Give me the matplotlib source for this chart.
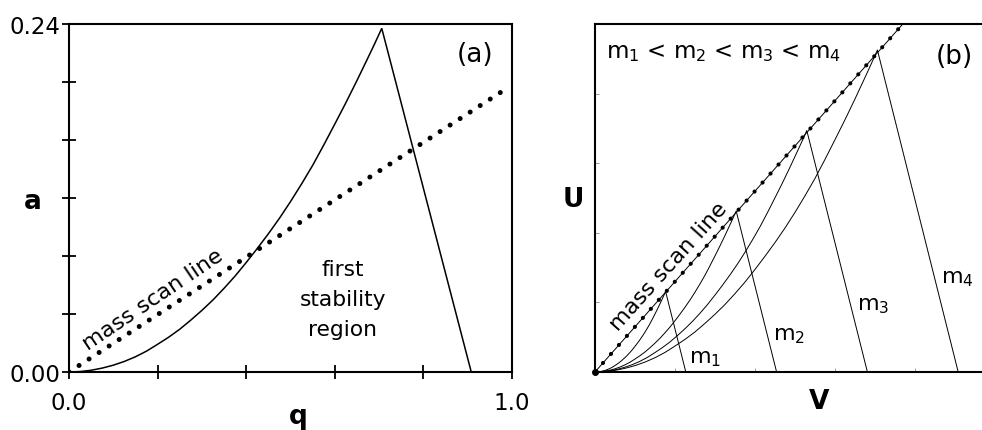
import matplotlib
matplotlib.use("Agg")
import matplotlib.pyplot as plt
import numpy as np

plt.rcParams['font.family'] = ['DejaVu Sans']
plt.rcParams['mathtext.fontset'] = 'dejavusans'

# ---- data: first stability region (q, a) ----
boundary_q = [0.0, 0.025, 0.05, 0.075, 0.10, 0.125, 0.15, 0.175, 0.20, 0.225,
              0.25, 0.275, 0.30, 0.325, 0.35, 0.375, 0.40, 0.425, 0.45, 0.475,
              0.50, 0.525, 0.55, 0.575, 0.60, 0.625, 0.65, 0.675, 0.69, 0.706,
              0.908]
boundary_a = [0.0, 0.0003, 0.0012, 0.0027, 0.0047, 0.0073, 0.0105, 0.0144,
              0.0191, 0.0240, 0.0295, 0.0358, 0.0425, 0.0497, 0.0577, 0.0662,
              0.0755, 0.0852, 0.0953, 0.1060, 0.1175, 0.1297, 0.1425, 0.1565,
              0.1710, 0.1857, 0.2010, 0.2168, 0.2264, 0.237, 0.0]

# mass scan line in panel (a)
scan_a_q = [0.0, 0.98]
scan_a_a = [0.0, 0.194]

# panel (b): masses and voltage scale factors
masses = [1, 2, 3, 4]
mass_labels = ["m$_1$", "m$_2$", "m$_3$", "m$_4$"]
V_per_q = 1.25
U_per_a = 4.88
scan_b_V = [0.0, 3.84]
scan_b_U = [0.0, 4.99]
mass_label_V = [1.175, 2.22, 3.28, 4.325]
mass_label_U = [0.14, 0.474, 0.905, 1.29]

a_xticks = [0.0, 0.2, 0.4, 0.6, 0.8, 1.0]
a_xticklabels = ["0.0", "", "", "", "", "1.0"]
a_yticks = [0.0, 0.04, 0.08, 0.12, 0.16, 0.20, 0.24]
a_yticklabels = ["0.00", "", "", "", "", "", "0.24"]
b_xticks = [1, 2, 3, 4]
b_yticks = [1, 2, 3, 4]

W, H = 982, 431
fig = plt.figure(figsize=(W / 100, H / 100), dpi=100)

# ---------------- panel (a) ----------------
axa = fig.add_axes([69 / W, (H - 373) / H, 443 / W, 348 / H])
axa.set_xlim(0, 1.0)
axa.set_ylim(0, 0.24)
axa.plot(boundary_q, boundary_a, color='black', lw=1.1, solid_joinstyle='miter')
axa.plot(scan_a_q, scan_a_a, color='black', lw=3.6,
         linestyle=(0, (0.01, 2.38)), dash_capstyle='round')
for s in axa.spines.values():
    s.set_linewidth(1.5)
axa.set_xticks(a_xticks)
axa.set_xticklabels(a_xticklabels)
axa.set_yticks(a_yticks)
axa.set_yticklabels(a_yticklabels)
axa.tick_params(direction='inout', length=10, width=1.3, labelsize=16.5)
axa.tick_params(axis='x', pad=9)
axa.tick_params(axis='y', pad=1)
axa.text(0.19, 0.0503, "mass scan line", rotation=34, fontsize=16,
         ha='center', va='center')
axa.text(0.618, 0.0503, "first\nstability\nregion", fontsize=15.7,
         ha='center', va='center', linespacing=1.6)
axa.text(0.917, 0.219, "(a)", fontsize=19, ha='center', va='center')
axa.text(-0.081, 0.491, "a", fontsize=19, fontweight='bold', ha='center',
         va='center', transform=axa.transAxes)
axa.text(0.517, -0.126, "q", fontsize=19, fontweight='bold', ha='center',
         va='center', transform=axa.transAxes)

# ---------------- panel (b) ----------------
axb = fig.add_axes([595 / W, (H - 373) / H, 400 / W, 348 / H])
axb.set_xlim(0, 5)
axb.set_ylim(0, 5)
bq = np.array(boundary_q)
ba = np.array(boundary_a)
for m in masses:
    axb.plot(bq * V_per_q * m, ba * U_per_a * m, color='black', lw=0.7)
axb.plot(scan_b_V, scan_b_U, color='black', lw=0.7)
axb.plot(scan_b_V, scan_b_U, color='black', lw=3.0,
         linestyle=(0, (0.01, 2.88)), dash_capstyle='round')
axb.spines['right'].set_visible(False)
for k in ['left', 'bottom', 'top']:
    axb.spines[k].set_linewidth(1.5)
axb.set_xticks(b_xticks)
axb.set_yticks(b_yticks)
axb.set_xticklabels([])
axb.set_yticklabels([])
axb.tick_params(direction='in', length=3, width=0.6, color='#888888')
for lab, v, u in zip(mass_labels, mass_label_V, mass_label_U):
    axb.text(v, u, lab, fontsize=16, ha='left', va='baseline')
axb.text(0.925, 1.52, "mass scan line", rotation=48, fontsize=16,
         ha='center', va='center')
axb.text(0.0275, 0.922, "m$_1$ < m$_2$ < m$_3$ < m$_4$", fontsize=16.5,
         ha='left', va='center', transform=axb.transAxes)
axb.text(0.8975, 0.908, "(b)", fontsize=19, ha='center', va='center',
         transform=axb.transAxes)
axb.text(-0.055, 0.497, "U", fontsize=19, fontweight='bold', ha='center',
         va='center', transform=axb.transAxes)
axb.text(0.56, -0.083, "V", fontsize=19, fontweight='bold', ha='center',
         va='center', transform=axb.transAxes)
axb.plot([0], [0], 'o', color='black', ms=4, clip_on=False)

fig.savefig("out.png", dpi=100)
